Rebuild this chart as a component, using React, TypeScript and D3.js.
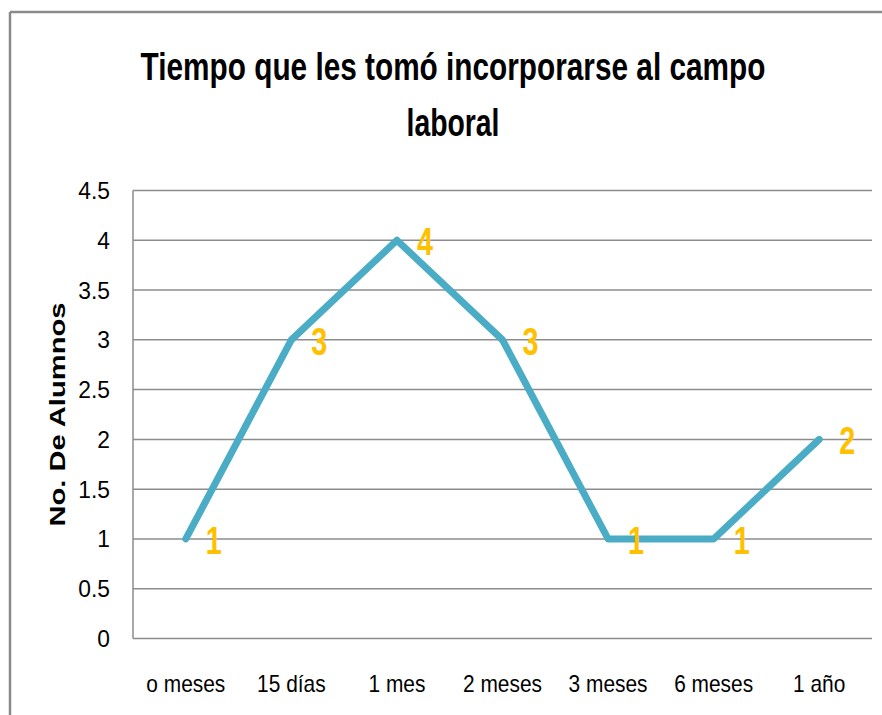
import React from "react";
import * as d3 from "d3";

const categories = ["o meses", "15 días", "1 mes", "2 meses", "3 meses", "6 meses", "1 año"];
const values = [1, 3, 4, 3, 1, 1, 2];
const yTicks = [0, 0.5, 1, 1.5, 2, 2.5, 3, 3.5, 4, 4.5];
const titleLines = ["Tiempo que les tomó incorporarse al campo", "laboral"];
const yTitle = "No. De Alumnos";

const W = 882;
const H = 715;
const plotLeft = 133;
const plotRight = 872;
const plotTop = 190.5;
const plotBottom = 638.5;
const FONT = "'Liberation Sans', Arial, sans-serif";

let ctx: CanvasRenderingContext2D | null = null;
function measure(text: string, font: string): number {
  if (typeof document === "undefined") return text.length * 10;
  if (!ctx) ctx = document.createElement("canvas").getContext("2d");
  if (!ctx) return text.length * 10;
  ctx.font = font;
  return ctx.measureText(text).width;
}

export default function App() {
  const x = d3.scaleBand<string>().domain(categories).range([plotLeft, plotRight]);
  const y = d3.scaleLinear().domain([0, 4.5]).range([plotBottom, plotTop]);
  const cx = (c: string) => (x(c) as number) + x.bandwidth() / 2;
  const line = d3
    .line<number>()
    .x((_, i) => cx(categories[i]))
    .y((d) => y(d));

  const tickFont = `24px ${FONT}`;
  const titleFont = `bold 38px ${FONT}`;
  const s1 = 625 / measure(titleLines[0], titleFont);
  const s2 = 93 / measure(titleLines[1], titleFont);

  return (
    <svg
      width={W}
      height={H}
      style={{ position: "absolute", left: 0, top: 0, background: "#fff" }}
      fontFamily={FONT}
    >
      <rect x={0} y={0} width={W} height={H} fill="#fff" />
      {/* outer border (top and left visible) */}
      <line x1={10} y1={12} x2={W} y2={12} stroke="#8a8a8a" strokeWidth={2.5} />
      <line x1={10} y1={12} x2={10} y2={H} stroke="#8a8a8a" strokeWidth={2.5} />

      {/* title */}
      <text transform={`translate(453,80) scale(${s1},1)`} textAnchor="middle" fontSize={38} fontWeight="bold" fill="#000">
        {titleLines[0]}
      </text>
      <text transform={`translate(453,136) scale(${s2},1)`} textAnchor="middle" fontSize={38} fontWeight="bold" fill="#000">
        {titleLines[1]}
      </text>

      {/* gridlines */}
      {yTicks.map((t) => (
        <line key={t} x1={plotLeft} x2={plotRight} y1={y(t)} y2={y(t)} stroke="#8c8c8c" strokeWidth={1.5} />
      ))}
      <line x1={plotLeft} x2={plotLeft} y1={plotTop} y2={plotBottom} stroke="#8c8c8c" strokeWidth={1.5} />

      {/* y tick labels */}
      {yTicks.map((t) => (
        <text
          key={t}
          x={110}
          y={y(t) + 8.5}
          textAnchor="end"
          fontSize={24}
          fill="#000"
          textLength={measure(String(t), tickFont) * 0.95}
          lengthAdjust="spacingAndGlyphs"
        >
          {String(t)}
        </text>
      ))}

      {/* x tick labels */}
      {categories.map((c) => (
        <text
          key={c}
          x={cx(c)}
          y={692}
          textAnchor="middle"
          fontSize={24}
          fill="#000"
          textLength={measure(c, tickFont) * 0.87}
          lengthAdjust="spacingAndGlyphs"
        >
          {c}
        </text>
      ))}

      {/* y axis title */}
      <text
        transform={`translate(65, ${(plotTop + plotBottom) / 2}) rotate(-90)`}
        textAnchor="middle"
        fontSize={22}
        fontWeight="bold"
        fill="#000"
        textLength={224}
        lengthAdjust="spacingAndGlyphs"
      >
        {yTitle}
      </text>

      {/* series line */}
      <path d={line(values) || ""} fill="none" stroke="#4BACC6" strokeWidth={7} strokeLinejoin="round" strokeLinecap="round" />

      {/* data labels */}
      {values.map((v, i) => (
        <text
          key={i}
          x={cx(categories[i]) + 28}
          y={y(v) + 15}
          textAnchor="middle"
          fontSize={38}
          fontWeight="bold"
          fill="#FFC000"
          textLength={16}
          lengthAdjust="spacingAndGlyphs"
        >
          {String(v)}
        </text>
      ))}
    </svg>
  );
}
